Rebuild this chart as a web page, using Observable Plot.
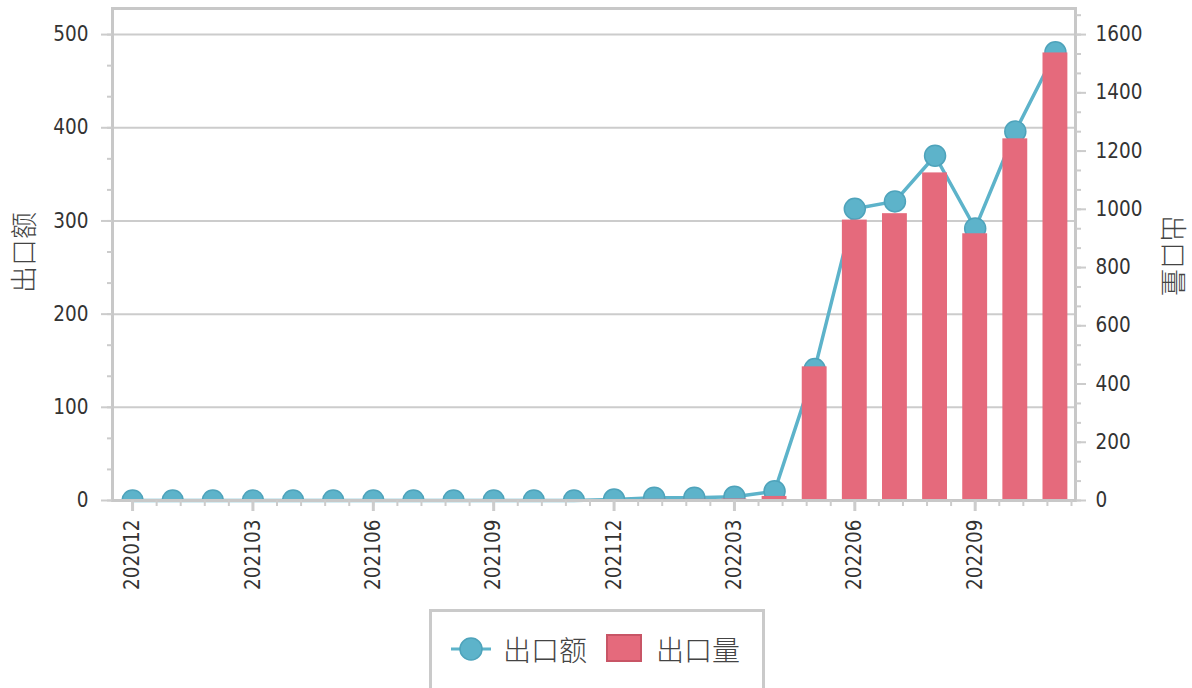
<!DOCTYPE html>
<html>
<head>
<meta charset="utf-8">
<script src="https://cdn.jsdelivr.net/npm/d3@7"></script>
<script src="https://cdn.jsdelivr.net/npm/@observablehq/plot@0.6"></script>
<style>
  html, body { margin: 0; padding: 0; background: #fff; }
  #chart svg { display: block; }
  #chart svg g[aria-label$="tick label"], #chart svg g[aria-label$="tick label"] text {
    font-size: 20.5px !important;
    font-family: 'DejaVu Sans Condensed', 'Liberation Sans', sans-serif !important;
    font-stretch: condensed;
  }
  #legend {
    margin-left: 429px;
    width: 336px;
    height: 90px;
    border: 3px solid #cacaca;
    box-sizing: border-box;
    position: relative;
    font-family: "Noto Sans CJK SC", sans-serif;
    font-weight: 300;
    font-size: 28px;
    color: #444;
  }
  .item { position: absolute; top: 22px; height: 30px; line-height: 30px; }
</style>
</head>
<body>
<div id="chart"></div>
<div id="legend"></div>
<script>
// ---- data ----
const months = ["202012","202101","202102","202103","202104","202105","202106","202107","202108","202109","202110","202111","202112","202201","202202","202203","202204","202205","202206","202207","202208","202209","202210","202211"];
const exportValue = [0,0,0,0,0,0,0,0,0,0,0,0,1,3,3,4,10,141,313,321,370,292,396,481];
const exportVolume = [0,0,0,0,0,0,0,0,0,0,0,0,0,4,4,5,14,459,963,985,1125,916,1242,1537];
const seriesNames = ["出口额","出口量"];
const leftTicks = [0,100,200,300,400,500];
const rightTicks = [0,200,400,600,800,1000,1200,1400,1600];
const ratio = 3.2; // right-axis units per left-axis unit

const blue = "#5db3ca", blueDark = "#4ea3bb", red = "#e56a7c", redDark = "#c85566";
const gridColor = "#cccccc";
const H = 609;
const tickFont = "'DejaVu Sans Condensed', 'Liberation Sans', sans-serif";
const cjkFont = "'Noto Sans CJK SC', sans-serif";

const data = months.map((m, i) => ({i, month: m, value: exportValue[i], volume: exportVolume[i]}));
const leftMinor = d3.range(0, 16).map(k => k * 100 / 3);
const rightMinor = d3.range(0, 26).map(k => k * 200 / 3 / ratio);
const xMajor = d3.range(0, 24, 3);
const xMinor = d3.range(0, 40).map(k => +(k * 0.6).toFixed(2));

const chart = Plot.plot({
  width: 1192,
  height: H,
  marginLeft: 112,
  marginRight: 117,
  marginTop: 8,
  marginBottom: H - 500,
  x: {type: "linear", domain: [-0.5, 23.5]},
  y: {domain: [0, 528]},
  style: {fontFamily: tickFont, fontSize: "20px", color: "#333", background: "#fff", overflow: "visible"},
  marks: [
    Plot.gridY(leftTicks.slice(1), {stroke: gridColor, strokeWidth: 2, strokeOpacity: 1}),
    Plot.line(data, {x: "i", y: "value", stroke: blue, strokeWidth: 3.5}),
    Plot.dot(data, {x: "i", y: "value", r: 10.5, fill: blue, stroke: blueDark, strokeWidth: 1.5, clip: true}),
    Plot.rectY(data, {x1: d => d.i - 0.31, x2: d => d.i + 0.31, y1: 0, y2: d => d.volume / ratio, fill: red}),
    Plot.frame({stroke: "#c8c8c8", strokeWidth: 3}),
    // left axis
    Plot.axisY(leftMinor.filter(v => v <= 528), {anchor: "left", tickSize: 5, tickFormat: () => "", stroke: gridColor, strokeWidth: 2, label: null}),
    Plot.axisY(leftTicks, {anchor: "left", tickSize: 11, tickPadding: 13, stroke: gridColor, strokeWidth: 2, fill: "#333", label: null}),
    // right axis
    Plot.axisY(rightMinor.filter(v => v <= 528), {anchor: "right", tickSize: 5, tickFormat: () => "", stroke: gridColor, strokeWidth: 2, label: null}),
    Plot.axisY(rightTicks.map(v => v / ratio), {anchor: "right", tickSize: 10, tickPadding: 10, tickFormat: d => String(Math.round(d * ratio)), stroke: gridColor, strokeWidth: 2, fill: "#333", label: null}),
    // x axis
    Plot.axisX(xMinor, {tickSize: 6, tickFormat: () => "", stroke: gridColor, strokeWidth: 2, label: null}),
    Plot.axisX(xMajor, {tickSize: 11, tickPadding: 8, tickRotate: -90, tickFormat: i => months[i], stroke: gridColor, strokeWidth: 3, fill: "#333", label: null}),
    // axis titles
    Plot.text([seriesNames[0]], {frameAnchor: "left", textAnchor: "middle", dx: -87, dy: -2, rotate: -90, text: d => d, fontFamily: cjkFont, fontWeight: 300, fontSize: 27, fill: "#444"}),
    Plot.text([seriesNames[1]], {frameAnchor: "right", textAnchor: "middle", dx: 96, dy: 1, rotate: 90, text: d => d, fontFamily: cjkFont, fontWeight: 300, fontSize: 27, fill: "#444"})
  ]
});
document.getElementById("chart").appendChild(chart);

// make sure the dots are clipped to the plot frame (half-circles at zero)
const dotG = chart.querySelector('g[aria-label="dot"]');
if (dotG && !dotG.getAttribute("clip-path")) {
  const ns = "http://www.w3.org/2000/svg";
  const defs = document.createElementNS(ns, "defs");
  const cp = document.createElementNS(ns, "clipPath");
  cp.setAttribute("id", "plot-frame-clip");
  const r = document.createElementNS(ns, "rect");
  r.setAttribute("x", 112); r.setAttribute("y", 8);
  r.setAttribute("width", 1192 - 112 - 117); r.setAttribute("height", 500 - 8);
  cp.appendChild(r); defs.appendChild(cp); chart.insertBefore(defs, chart.firstChild);
  dotG.setAttribute("clip-path", "url(#plot-frame-clip)");
}

// ---- legend ----
const legend = document.getElementById("legend");
legend.innerHTML = `
  <svg class="item" style="left:18px; top:24px" width="42" height="26">
    <line x1="1" y1="13" x2="41" y2="13" stroke="${blue}" stroke-width="3"/>
    <circle cx="21" cy="13" r="11" fill="${blue}" stroke="${blueDark}" stroke-width="1.5"/>
  </svg>
  <span class="item" style="left:71px">${seriesNames[0]}</span>
  <div class="item" style="left:174px; top:22px; width:36px; height:28px; box-sizing:border-box; background:${red}; border:2px solid ${redDark}"></div>
  <span class="item" style="left:224px">${seriesNames[1]}</span>
`;
</script>
</body>
</html>
